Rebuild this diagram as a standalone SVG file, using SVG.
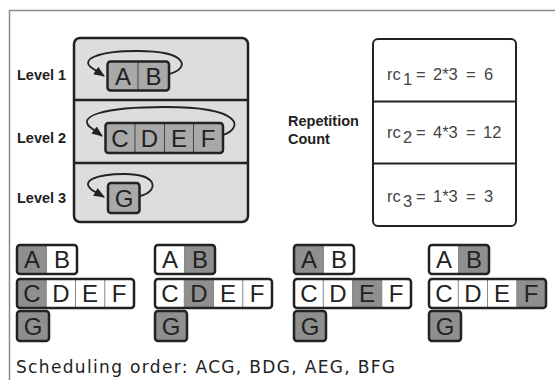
<svg xmlns="http://www.w3.org/2000/svg" width="555" height="380" viewBox="0 0 555 380">
<style>
.lbl{font-family:"Liberation Sans",Arial,sans-serif;font-weight:bold;font-size:14.5px;fill:#222}
.let{font-family:"Liberation Sans",Arial,sans-serif;font-size:24px;fill:#222;text-anchor:middle}
.rc{font-family:"Liberation Sans",Arial,sans-serif;font-size:16.5px;fill:#444}
.outer{fill:none;stroke:#222;stroke-width:2.5}
.div{stroke:#888;stroke-width:1}
.cellT{fill:#a9a9a9}
.on{fill:#8f8f8f}
.off{fill:#fff}
.loop{fill:none;stroke:#222;stroke-width:1.8}
</style>
<defs>
<marker id="ah" markerUnits="userSpaceOnUse" markerWidth="12" markerHeight="10" refX="10" refY="4.5" orient="auto">
<path d="M0,0 L11,4.5 L0,9 z" fill="#222"/>
</marker>
</defs>
<rect width="555" height="380" fill="#fff"/>
<g id="frame">
<line x1="9" y1="10.5" x2="555" y2="10.5" stroke="#8a8a8a" stroke-width="1.5"/>
<line x1="9.5" y1="10" x2="9.5" y2="380" stroke="#8a8a8a" stroke-width="1.5"/>
</g>
<g id="levels-box">
<rect x="74" y="38" width="174" height="184" rx="6" fill="#dddddd" stroke="#222" stroke-width="2.5"/>
<line x1="74" y1="100" x2="248" y2="100" stroke="#222" stroke-width="2.5"/>
<line x1="74" y1="163" x2="248" y2="163" stroke="#222" stroke-width="2.5"/>
</g>
<g id="level-labels">
<text class="lbl" x="17" y="80">Level 1</text>
<text class="lbl" x="17" y="143">Level 2</text>
<text class="lbl" x="17" y="203">Level 3</text>
</g>
<g id="level1-AB">
<rect class="cellT" x="107.5" y="61.5" width="61.5" height="29" rx="3"/>
<line x1="138" y1="61.5" x2="138" y2="90.5" stroke="#444" stroke-width="1"/>
<rect class="outer" x="107.5" y="61.5" width="61.5" height="29" rx="3"/>
<text class="let" x="123" y="84.5">A</text>
<text class="let" x="153.5" y="84.5">B</text>
</g>
<g id="level2-CDEF">
<rect class="cellT" x="105.5" y="123" width="117.5" height="30" rx="3"/>
<line x1="135" y1="123" x2="135" y2="153" stroke="#444" stroke-width="1"/>
<line x1="164.5" y1="123" x2="164.5" y2="153" stroke="#444" stroke-width="1"/>
<line x1="193.5" y1="123" x2="193.5" y2="153" stroke="#444" stroke-width="1"/>
<rect class="outer" x="105.5" y="123" width="117.5" height="30" rx="3"/>
<text class="let" x="120" y="146.5">C</text>
<text class="let" x="149.5" y="146.5">D</text>
<text class="let" x="179" y="146.5">E</text>
<text class="let" x="208" y="146.5">F</text>
</g>
<g id="level3-G">
<rect class="cellT" x="108" y="183" width="31.5" height="30" rx="3"/>
<rect class="outer" x="108" y="183" width="31.5" height="30" rx="3"/>
<text class="let" x="124" y="206.5">G</text>
</g>
<g id="connectors">
<path class="loop" marker-end="url(#ah)" d="M169,74 C188,70 192,51 137,51 C96,51 80,60 92,68 L104,76"/>
<path class="loop" marker-end="url(#ah)" d="M223,135 C242,129 246,107 165,107 C100,107 78,117 90,127 L102,136"/>
<path class="loop" marker-end="url(#ah)" d="M140,196 C158,192 160,174 124,174 C96,174 80,181 92,190 L104,197"/>
</g>
<g id="repetition-label">
<text class="lbl" x="288" y="126">Repetition</text>
<text class="lbl" x="288" y="144">Count</text>
</g>
<g id="rc-box">
<rect x="373" y="39" width="143" height="187" rx="5" fill="#fff" stroke="#222" stroke-width="2"/>
<line x1="373" y1="101.5" x2="516" y2="101.5" stroke="#222" stroke-width="1.8"/>
<line x1="373" y1="163.5" x2="516" y2="163.5" stroke="#222" stroke-width="1.8"/>
<text class="rc" y="80"><tspan x="387">rc</tspan><tspan x="403" y="85">1</tspan><tspan x="416" y="80">=</tspan><tspan x="433">2*3</tspan><tspan x="466">=</tspan><tspan x="484">6</tspan></text>
<text class="rc" y="138"><tspan x="387">rc</tspan><tspan x="403" y="143">2</tspan><tspan x="416" y="138">=</tspan><tspan x="433">4*3</tspan><tspan x="466">=</tspan><tspan x="483">12</tspan></text>
<text class="rc" y="202"><tspan x="387">rc</tspan><tspan x="403" y="207">3</tspan><tspan x="416" y="202">=</tspan><tspan x="433">1*3</tspan><tspan x="466">=</tspan><tspan x="484">3</tspan></text>
</g>
<g id="step1" transform="translate(17,0)">
<rect class="on" x="0" y="245" width="29.5" height="29"/><rect class="off" x="29.5" y="245" width="30.5" height="29"/>
<line class="div" x1="29.5" y1="245" x2="29.5" y2="274"/>
<rect class="outer" x="0" y="245" width="60" height="29" rx="3"/>
<rect class="on" x="0" y="279" width="29.3" height="29"/><rect class="off" x="29.3" y="279" width="87.7" height="29"/>
<line class="div" x1="29.3" y1="279" x2="29.3" y2="308"/><line class="div" x1="58.5" y1="279" x2="58.5" y2="308"/><line class="div" x1="87.8" y1="279" x2="87.8" y2="308"/>
<rect class="outer" x="0" y="279" width="117" height="29" rx="3"/>
<rect class="on" x="0" y="311" width="32" height="30"/>
<rect class="outer" x="0" y="311" width="32" height="30" rx="3"/>
<text class="let" x="15" y="268">A</text><text class="let" x="45" y="268">B</text>
<text class="let" x="15" y="302">C</text><text class="let" x="44" y="302">D</text><text class="let" x="73" y="302">E</text><text class="let" x="102" y="302">F</text>
<text class="let" x="16" y="334.5">G</text>
</g>
<g id="step2" transform="translate(155,0)">
<rect class="off" x="0" y="245" width="29.5" height="29"/><rect class="on" x="29.5" y="245" width="30.5" height="29"/>
<line class="div" x1="29.5" y1="245" x2="29.5" y2="274"/>
<rect class="outer" x="0" y="245" width="60" height="29" rx="3"/>
<rect class="off" x="0" y="279" width="117" height="29"/><rect class="on" x="29.3" y="279" width="29.2" height="29"/>
<line class="div" x1="29.3" y1="279" x2="29.3" y2="308"/><line class="div" x1="58.5" y1="279" x2="58.5" y2="308"/><line class="div" x1="87.8" y1="279" x2="87.8" y2="308"/>
<rect class="outer" x="0" y="279" width="117" height="29" rx="3"/>
<rect class="on" x="0" y="311" width="32" height="30"/>
<rect class="outer" x="0" y="311" width="32" height="30" rx="3"/>
<text class="let" x="15" y="268">A</text><text class="let" x="45" y="268">B</text>
<text class="let" x="15" y="302">C</text><text class="let" x="44" y="302">D</text><text class="let" x="73" y="302">E</text><text class="let" x="102" y="302">F</text>
<text class="let" x="16" y="334.5">G</text>
</g>
<g id="step3" transform="translate(294,0)">
<rect class="on" x="0" y="245" width="29.5" height="29"/><rect class="off" x="29.5" y="245" width="30.5" height="29"/>
<line class="div" x1="29.5" y1="245" x2="29.5" y2="274"/>
<rect class="outer" x="0" y="245" width="60" height="29" rx="3"/>
<rect class="off" x="0" y="279" width="117" height="29"/><rect class="on" x="58.5" y="279" width="29.3" height="29"/>
<line class="div" x1="29.3" y1="279" x2="29.3" y2="308"/><line class="div" x1="58.5" y1="279" x2="58.5" y2="308"/><line class="div" x1="87.8" y1="279" x2="87.8" y2="308"/>
<rect class="outer" x="0" y="279" width="117" height="29" rx="3"/>
<rect class="on" x="0" y="311" width="32" height="30"/>
<rect class="outer" x="0" y="311" width="32" height="30" rx="3"/>
<text class="let" x="15" y="268">A</text><text class="let" x="45" y="268">B</text>
<text class="let" x="15" y="302">C</text><text class="let" x="44" y="302">D</text><text class="let" x="73" y="302">E</text><text class="let" x="102" y="302">F</text>
<text class="let" x="16" y="334.5">G</text>
</g>
<g id="step4" transform="translate(429,0)">
<rect class="off" x="0" y="245" width="29.5" height="29"/><rect class="on" x="29.5" y="245" width="30.5" height="29"/>
<line class="div" x1="29.5" y1="245" x2="29.5" y2="274"/>
<rect class="outer" x="0" y="245" width="60" height="29" rx="3"/>
<rect class="off" x="0" y="279" width="117" height="29"/><rect class="on" x="87.8" y="279" width="29.2" height="29"/>
<line class="div" x1="29.3" y1="279" x2="29.3" y2="308"/><line class="div" x1="58.5" y1="279" x2="58.5" y2="308"/><line class="div" x1="87.8" y1="279" x2="87.8" y2="308"/>
<rect class="outer" x="0" y="279" width="117" height="29" rx="3"/>
<rect class="on" x="0" y="311" width="32" height="30"/>
<rect class="outer" x="0" y="311" width="32" height="30" rx="3"/>
<text class="let" x="15" y="268">A</text><text class="let" x="45" y="268">B</text>
<text class="let" x="15" y="302">C</text><text class="let" x="44" y="302">D</text><text class="let" x="73" y="302">E</text><text class="let" x="102" y="302">F</text>
<text class="let" x="16" y="334.5">G</text>
</g>
<text x="16" y="373" font-family="DejaVu Sans, Liberation Sans, sans-serif" font-size="17" fill="#222" textLength="379" lengthAdjust="spacing">Scheduling order: ACG, BDG, AEG, BFG</text>
</svg>
